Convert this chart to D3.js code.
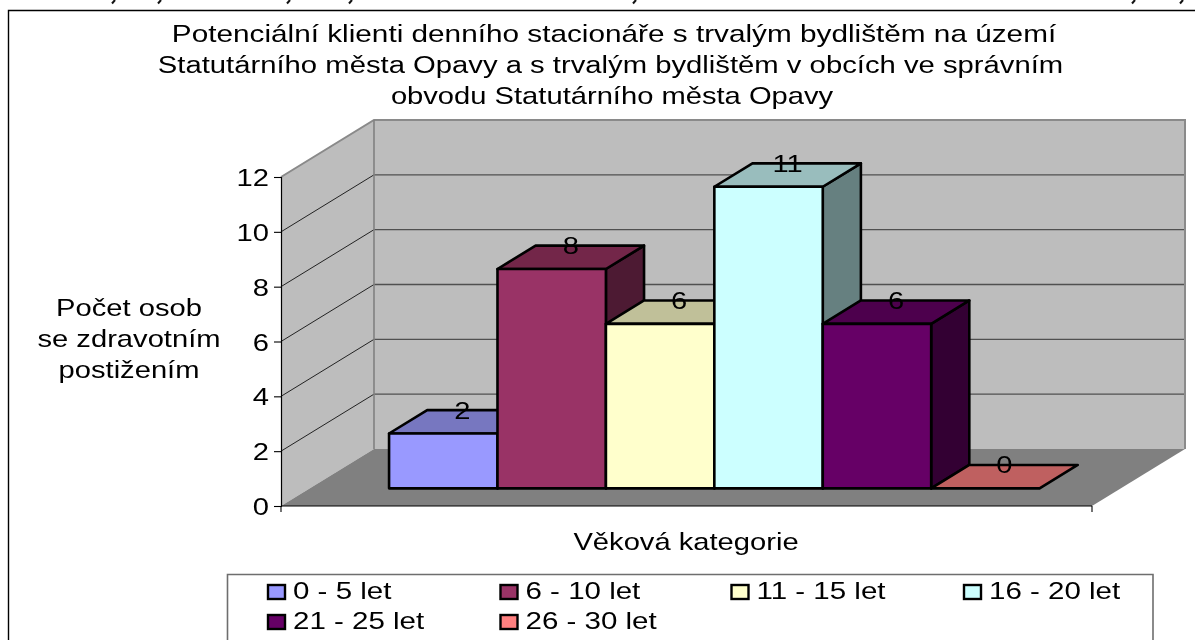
<!DOCTYPE html>
<html><head><meta charset="utf-8">
<script src="https://d3js.org/d3.v7.min.js"></script>
<style>html,body{margin:0;padding:0;background:#fff;overflow:hidden}svg{display:block;filter:blur(0.35px)}
text{font-family:"Liberation Sans",Arial,sans-serif;fill:#000}</style></head>
<body><svg id="c" width="1195" height="640"></svg>
<script>
const categories=["0 - 5 let","6 - 10 let","11 - 15 let","16 - 20 let","21 - 25 let","26 - 30 let"];
const values=[2,8,6,11,6,0];
const frontColors=["#9999FF","#993366","#FFFFCC","#CCFFFF","#660066","#FF8080"];
const topColors=["#7777C0","#732649","#C0C099","#99BDBD","#4D004D","#BF6060"];
const sideColors=["#4D4D80","#4D1A33","#808066","#668080","#330033","#804040"];
const yTicks=[0,2,4,6,8,10,12];
const titleLines=["Potenciální klienti denního stacionáře s trvalým bydlištěm na území","Statutárního města Opavy a s trvalým bydlištěm v obcích ve správním","obvodu Statutárního města Opavy"];
const yTitleLines=["Počet osob","se zdravotním","postižením"];
const xTitle="Věková kategorie";
const clippedTextFragments=[112,158,287,349,633,1132,1180];

const svg=d3.select("#c");
const FS=24, SX=1.215;
function label(g,str,x,y,anchor,sx){
  return g.append("text").attr("transform",`translate(${x},${y}) scale(${sx||SX},1)`)
    .attr("text-anchor",anchor||"middle").attr("font-size",FS).text(str);
}
// frame and the cut-off descenders of the line above it
svg.append("path").attr("d","M8.5,640V10.5H1195").attr("fill","none").attr("stroke","#000").attr("stroke-width",1.4);
svg.append("g").selectAll("path").data(clippedTextFragments).join("path")
  .attr("d",d=>`M${d+3},0L${d},3.5`).attr("fill","none").attr("stroke","#111").attr("stroke-width",2);

const y=d3.scaleLinear().domain([0,12]).range([506,177]);
const x=d3.scaleBand().domain(categories).range([281,1092]).paddingInner(0).paddingOuter(0.74);
const DX=93,DY=-57,x0=281,x1=1092;
const poly=(g,pts,fill,stroke,sw)=>g.append("path").attr("d","M"+pts.map(p=>p.join(",")).join("L")+"Z")
  .attr("fill",fill).attr("stroke",stroke||"none").attr("stroke-width",sw||0).attr("stroke-linejoin","round");

// walls and floor
const walls=svg.append("g");
poly(walls,[[x0+DX,y(12)+DY],[x1+DX,y(12)+DY],[x1+DX,y(0)+DY],[x0+DX,y(0)+DY]],"#BDBDBD");
poly(walls,[[x0,y(12)],[x0+DX,y(12)+DY],[x0+DX,y(0)+DY],[x0,y(0)]],"#BDBDBD");
poly(walls,[[x0,y(0)],[x0+DX,y(0)+DY],[x1+DX,y(0)+DY],[x1,y(0)]],"#808080");
yTicks.slice(1,-1).forEach(t=>{
  walls.append("line").attr("x1",x0+DX).attr("x2",x1+DX).attr("y1",y(t)+DY).attr("y2",y(t)+DY).attr("stroke","#505050").attr("stroke-width",1.4);
});
yTicks.slice(1,-1).forEach(t=>{
  walls.append("line").attr("x1",x0).attr("x2",x0+DX).attr("y1",y(t)).attr("y2",y(t)+DY).attr("stroke","#111").attr("stroke-width",0.9);
});
walls.append("path").attr("d",`M${x0},${y(12)}L${x0+DX},${y(12)+DY}H${x1+DX}V${y(0)+DY}`).attr("fill","none").attr("stroke","#8a8a8a").attr("stroke-width",2);
walls.append("line").attr("x1",x0+DX).attr("x2",x0+DX).attr("y1",y(12)+DY).attr("y2",y(0)+DY).attr("stroke","#808080").attr("stroke-width",1.6);

// axes
const axisY=svg.append("g").attr("transform",`translate(${x0},0)`).call(d3.axisLeft(y).tickValues(yTicks).tickSize(7).tickPadding(5));
axisY.select(".domain").attr("stroke","#000").attr("stroke-width",1.2);
axisY.selectAll("line").attr("stroke","#000").attr("stroke-width",1.1);
axisY.selectAll("text").attr("font-size",FS).attr("font-family",'"Liberation Sans",Arial,sans-serif').attr("fill","#000")
  .attr("transform",function(){const t=d3.select(this);return `translate(${(1-SX)*(+t.attr("x"))},0) scale(${SX},1)`;})
  .attr("dy","0.36em");
const axisX=svg.append("g");
axisX.append("line").attr("x1",x0).attr("x2",x1).attr("y1",y(0)).attr("y2",y(0)).attr("stroke","#000").attr("stroke-width",1.2);
[x0,x1].forEach(v=>axisX.append("line").attr("x1",v).attr("x2",v).attr("y1",y(0)).attr("y2",y(0)+6).attr("stroke","#000").attr("stroke-width",1.1));

// bars
const floorFrac=0.31, depthFrac=0.41;
const ox=DX*floorFrac-1, oy=DY*floorFrac, dx=DX*depthFrac, dy=DY*depthFrac;
const barsG=svg.append("g");
categories.forEach((c,i)=>{
  const xl=x(c)+ox, xr=xl+x.bandwidth(), yb=y(0)+oy, yt=y(values[i])+oy, sw=2.6;
  const g=barsG.append("g");
  if(values[i]>0){
    poly(g,[[xr,yb],[xr+dx,yb+dy],[xr+dx,yt+dy],[xr,yt]],sideColors[i],"#000",sw);
  }
  poly(g,[[xl,yt],[xl+dx,yt+dy],[xr+dx,yt+dy],[xr,yt]],topColors[i],"#000",sw);
  if(values[i]>0){
    poly(g,[[xl,yb],[xr,yb],[xr,yt],[xl,yt]],frontColors[i],"#000",sw);
  }
});
const labelsG=svg.append("g");
categories.forEach((c,i)=>{
  const cx=x(c)+ox+x.bandwidth()/2+dx/2, yt=y(values[i])+oy+dy;
  label(labelsG,String(values[i]),cx,yt+8.5);
});

// titles
const tg=svg.append("g");
label(tg,titleLines[0],614,42,"middle",1.24);
label(tg,titleLines[1],610.5,73,"middle",1.219);
label(tg,titleLines[2],612,104);
[316,347,378].forEach((b,i)=>label(tg,yTitleLines[i],129,b));
label(tg,xTitle,686,550);

// legend
const lg=svg.append("g");
lg.append("path").attr("d","M227.5,640V574.5H1153V640").attr("fill","#fff").attr("stroke","#6e6e6e").attr("stroke-width",1.6);
const legX=[268,500.5,731.5,964], legY=[585,615];
categories.forEach((c,i)=>{
  const cx=legX[i%4], cy=legY[Math.floor(i/4)];
  lg.append("rect").attr("x",cx).attr("y",cy).attr("width",17).attr("height",14).attr("fill",frontColors[i]).attr("stroke","#000").attr("stroke-width",2.4);
  label(lg,c,cx+25,cy+13.5,"start",1.23);
});
</script></body></html>
